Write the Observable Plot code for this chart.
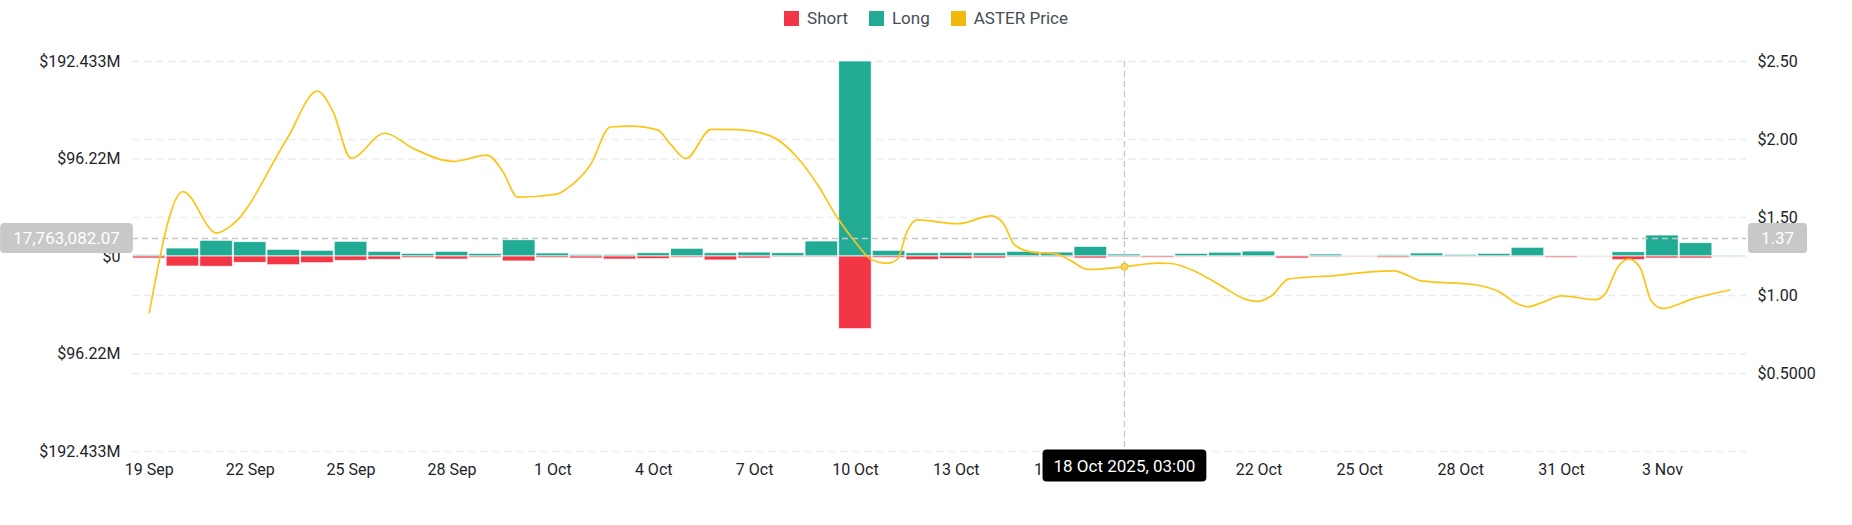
<!DOCTYPE html>
<html><head><meta charset="utf-8">
<script src="https://cdn.jsdelivr.net/npm/d3@7"></script>
<script src="https://cdn.jsdelivr.net/npm/@observablehq/plot@0.6"></script>
<style>
body{margin:0;background:#fff;font-family:Roboto,"Noto Sans",sans-serif;}
#legend{height:36px;display:flex;justify-content:center;align-items:center;gap:21px;font-size:17px;color:#474d57;}
.item{display:flex;align-items:center;gap:8px;}
.sw{width:15px;height:15px;display:inline-block;}
</style></head><body>
<div id="legend"></div>
<div id="chart"></div>
<script>
// ---- data ----
const dates = ["2025-09-19","2025-09-20","2025-09-21","2025-09-22","2025-09-23","2025-09-24","2025-09-25","2025-09-26","2025-09-27","2025-09-28","2025-09-29","2025-09-30",
"2025-10-01","2025-10-02","2025-10-03","2025-10-04","2025-10-05","2025-10-06","2025-10-07","2025-10-08","2025-10-09","2025-10-10","2025-10-11","2025-10-12","2025-10-13","2025-10-14","2025-10-15","2025-10-16","2025-10-17","2025-10-18","2025-10-19","2025-10-20","2025-10-21","2025-10-22","2025-10-23","2025-10-24","2025-10-25","2025-10-26","2025-10-27","2025-10-28","2025-10-29","2025-10-30","2025-10-31",
"2025-11-01","2025-11-02","2025-11-03","2025-11-04","2025-11-05"];
// liquidations, millions of USD
const longM = [1.3,7.9,15.5,14.2,6.6,5.6,14.5,4.6,2.6,4.6,2.6,16.1,
3.0,1.6,1.6,3.3,7.6,3.3,3.9,3.3,14.8,192.433,5.6,3.3,3.6,3.3,4.6,3.9,9.5,2.0,1.0,2.6,3.7,4.9,1.0,2.0,0.7,1.3,3.0,1.6,2.6,8.6,0.7,
0.5,4.3,20.7,13.2,1.0];
const shortM = [2.0,9.9,10.2,6.3,8.6,6.6,4.3,3.3,1.6,3.0,1.3,4.9,
1.6,2.0,3.0,2.6,1.3,3.9,2.0,1.0,1.0,71.7,1.6,3.6,2.6,2.0,1.0,1.0,2.0,1.0,1.3,0.7,0.7,0.7,2.0,1.0,0.7,1.3,0.7,0.7,0.7,0.7,1.3,
0.3,3.6,2.0,2.0,0.3];
const priceTimes = ["2025-09-19T00","2025-09-20T00","2025-09-21T00","2025-09-21T12","2025-09-23T02","2025-09-24T00","2025-09-24T11","2025-09-25T00","2025-09-26T00","2025-09-26T21",
"2025-09-28T01","2025-09-29T01","2025-09-29T12","2025-09-29T23","2025-10-01T03","2025-10-01T10","2025-10-02T03","2025-10-02T17","2025-10-03T08","2025-10-04T03",
"2025-10-04T12","2025-10-04T23","2025-10-05T17","2025-10-06T12","2025-10-07T12","2025-10-08T07","2025-10-08T21","2025-10-09T11","2025-10-10T01","2025-10-10T11",
"2025-10-10T23","2025-10-11T06","2025-10-11T13","2025-10-11T20","2025-10-13T01","2025-10-14T01","2025-10-14T10","2025-10-14T17","2025-10-15T05","2025-10-16T00",
"2025-10-16T10","2025-10-16T22","2025-10-18T00","2025-10-19T00","2025-10-19T09","2025-10-20T04","2025-10-20T23","2025-10-21T14","2025-10-21T23","2025-10-22T09",
"2025-10-22T21","2025-10-23T08","2025-10-24T04","2025-10-25T08","2025-10-26T01","2025-10-26T08","2025-10-26T20","2025-10-28T10","2025-10-29T03","2025-10-29T17",
"2025-10-30T00","2025-10-30T10","2025-10-31T00","2025-11-01T00","2025-11-01T07","2025-11-01T16","2025-11-02T00","2025-11-02T08","2025-11-02T16","2025-11-03T00",
"2025-11-03T21","2025-11-05T00"];
const priceVals = [0.89,1.666,1.40,1.46,2.00,2.31,2.18,1.88,2.04,1.94,
1.86,1.90,1.80,1.63,1.65,1.685,1.84,2.08,2.086,2.06,
1.97,1.877,2.065,2.063,2.02,1.88,1.71,1.50,1.33,1.233,
1.207,1.233,1.414,1.485,1.46,1.51,1.457,1.33,1.28,1.265,
1.222,1.167,1.184,1.207,1.205,1.148,1.052,0.977,0.962,0.998,
1.105,1.116,1.126,1.152,1.158,1.137,1.094,1.069,1.026,0.945,
0.928,0.955,0.998,0.973,1.009,1.18,1.233,1.18,0.966,0.917,
0.977,1.035];
const maxLiq = 192433000;
const leftTicks = [-192433000,-96220000,0,96220000,192433000];
const leftTickLabels = ["$192.433M","$96.22M","$0","$96.22M","$192.433M"];
const priceMax = 2.5;
const rightTicks = [0.5,1.0,1.5,2.0,2.5];
const rightTickLabels = ["$0.5000","$1.00","$1.50","$2.00","$2.50"];
// tick labels shown on the x axis (19 Oct is hidden under the crosshair tag)
const xTicks = ["2025-09-19","2025-09-22","2025-09-25","2025-09-28","2025-10-01","2025-10-04","2025-10-07","2025-10-10","2025-10-13","2025-10-16","2025-10-22","2025-10-25","2025-10-28","2025-10-31","2025-11-03"];
const crossValue = 17763082.07;
const crossPriceLabel = "1.37";
const crossTime = "2025-10-18T00";
const crossTimeLabel = "18 Oct 2025, 03:00";
const series = [{name:"Short",color:"#f23645"},{name:"Long",color:"#22ab94"},{name:"ASTER Price",color:"#f0b90b"}];

// ---- build ----
const lg = document.getElementById("legend");
series.forEach(s=>{const it=document.createElement("div");it.className="item";
 it.innerHTML=`<span class="sw" style="background:${s.color}"></span><span>${s.name}</span>`;lg.appendChild(it);});

const P = s => new Date(s.length===10 ? s+"T00:00Z" : s+":00Z");
const H = 3600e3;
const table = dates.map((d,i)=>({date:P(d), long:longM[i]*1e6, short:shortM[i]*1e6}));
const price = priceTimes.map((t,i)=>({t:P(t), p:priceVals[i]}));
const pToY = p => -maxLiq + p/priceMax*2*maxLiq;
const leftMap = new Map(leftTicks.map((t,i)=>[t,leftTickLabels[i]]));
const rightMap = new Map(rightTicks.map((t,i)=>[pToY(t),rightTickLabels[i]]));
const crossPt = price.find(d=>+d.t===+P(crossTime));

const grid = "#ebebeb", dash = "7,5";
const chart = Plot.plot({
  width:1852, height:489,
  marginLeft:132, marginRight:106, marginTop:25, marginBottom:74,
  style:{fontFamily:"Roboto, 'Noto Sans', sans-serif", fontSize:"16px", color:"#1e2329", background:"#fff"},
  x:{type:"utc", domain:[new Date(P(dates[0])-12*H), new Date(+P(dates[dates.length-1])+12*H)]},
  y:{domain:[-maxLiq,maxLiq]},
  marks:[
    Plot.ruleY([...leftTicks, ...rightTicks.map(pToY)], {stroke:grid, strokeWidth:1.3, strokeDasharray:dash}),
    Plot.rectY(table, {x1:d=>new Date(+d.date-12*H), x2:d=>new Date(+d.date+12*H), y1:0, y2:"long", fill:"#22ab94", stroke:"#ffffff", strokeOpacity:0.75, strokeWidth:1, insetLeft:0.5, insetRight:0.5}),
    Plot.rectY(table, {x1:d=>new Date(+d.date-12*H), x2:d=>new Date(+d.date+12*H), y1:0, y2:d=>-d.short, fill:"#f23645", stroke:"#ffffff", strokeOpacity:0.75, strokeWidth:1, insetLeft:0.5, insetRight:0.5}),
    Plot.ruleY([crossValue], {stroke:"#c6c6c6", strokeWidth:1.6, strokeDasharray:"6,4"}),
    Plot.ruleX([P(crossTime)], {stroke:"#c6c6c6", strokeWidth:1.3, strokeDasharray:"6,4", insetBottom:-8}),
    Plot.line(price, {x:"t", y:d=>pToY(d.p), stroke:"#fcc419", strokeWidth:1.7, curve:"monotone-x"}),
    Plot.dot([crossPt], {x:"t", y:d=>pToY(d.p), r:3.5, fill:"#f7d56b", stroke:"#f0b90b", strokeWidth:1}),
    Plot.axisY(leftTicks, {anchor:"left", tickSize:0, tickPadding:12, tickFormat:d=>leftMap.get(d), fontSize:16, label:null}),
    Plot.axisY(rightTicks.map(pToY), {anchor:"right", tickSize:0, tickPadding:11, tickFormat:d=>rightMap.get(d), fontSize:16, label:null}),
    Plot.axisX(xTicks.map(P), {anchor:"bottom", tickSize:0, tickPadding:12, tickFormat:d3.utcFormat("%-d %b"), fontSize:16, label:null}),
    Plot.text([crossValue], {y:d=>d, frameAnchor:"left", textAnchor:"middle", dx:-66, text:d=>d3.format(",.2f")(d), fill:"#ffffff", fontSize:17, className:"tag-gray"}),
    Plot.text([crossPriceLabel], {y:()=>crossValue, frameAnchor:"right", textAnchor:"middle", dx:31, text:d=>d, fill:"#ffffff", fontSize:17, className:"tag-gray"}),
    Plot.text([crossTimeLabel], {x:()=>P(crossTime), frameAnchor:"bottom", textAnchor:"middle", dy:20, text:d=>d, fill:"#ffffff", fontSize:17, className:"tag-black"})
  ]
});
document.getElementById("chart").appendChild(chart);
// background boxes for crosshair tags
function boxes(cls, color, padX, padY){
  chart.querySelectorAll("g."+cls+" text").forEach(t=>{
    const b=t.getBBox();
    const r=document.createElementNS("http://www.w3.org/2000/svg","rect");
    r.setAttribute("x",b.x-padX); r.setAttribute("y",b.y-padY);
    r.setAttribute("width",b.width+2*padX); r.setAttribute("height",b.height+2*padY);
    r.setAttribute("rx",4); r.setAttribute("fill",color);
    const tr=t.getAttribute("transform"); if(tr) r.setAttribute("transform",tr);
    t.parentNode.insertBefore(r,t);
  });
}
boxes("tag-gray","#c8c8c8",13,5);
boxes("tag-black","#000000",11,6);
</script>
</body></html>
